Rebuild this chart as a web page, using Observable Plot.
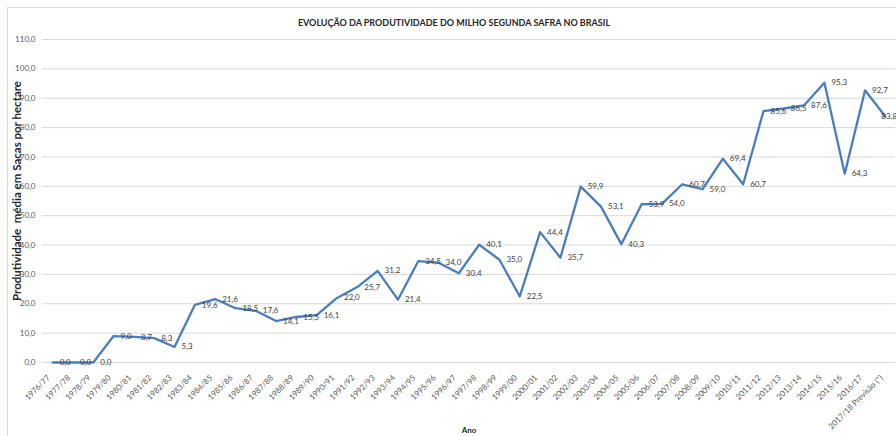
<!DOCTYPE html>
<html><head><meta charset="utf-8">
<script src="https://cdn.jsdelivr.net/npm/d3@7"></script>
<script src="https://cdn.jsdelivr.net/npm/@observablehq/plot@0.6"></script>
<style>body{margin:0;background:#fff;}</style>
</head><body><div id="chart"></div>
<script>
const safras = ["1976/77","1977/78","1978/79","1979/80","1980/81","1981/82","1982/83","1983/84","1984/85","1985/86","1986/87","1987/88","1988/89","1989/90","1990/91","1991/92","1992/93","1993/94","1994/95","1995/96","1996/97","1997/98","1998/99","1999/00","2000/01","2001/02","2002/03","2003/04","2004/05","2005/06","2006/07","2007/08","2008/09","2009/10","2010/11","2011/12","2012/13","2013/14","2014/15","2015/16","2016/17","2017/18 Previsão (*)"];
const produtividade = [0.0,0.0,0.0,9.0,8.7,8.3,5.3,19.6,21.6,18.5,17.6,14.1,15.5,16.1,22.0,25.7,31.2,21.4,34.5,34.0,30.4,40.1,35.0,22.5,44.4,35.7,59.9,53.1,40.3,53.9,54.0,60.7,59.0,69.4,60.7,85.6,86.5,87.6,95.3,64.3,92.7,83.8];
const yTicks = [0,10,20,30,40,50,60,70,80,90,100,110];
const titulo = "EVOLUÇÃO DA PRODUTIVIDADE DO MILHO SEGUNDA SAFRA NO BRASIL";
const tituloY = "Produtividade  média em Sacas por hectare";
const tituloX = "Ano";

const data = safras.map((s, i) => ({safra: s, valor: produtividade[i]}));
const fmt = v => v.toFixed(1).replace(".", ",");
const last = data.length - 1;

const chart = Plot.plot({
  width: 896, height: 436,
  marginLeft: 42, marginRight: 1, marginTop: 39, marginBottom: 74,
  style: {fontFamily: "Lato, 'Open Sans', sans-serif", background: "#fff"},
  x: {type: "point", domain: safras, padding: 0.5, round: false, label: null},
  y: {domain: [0, 110], label: null},
  marks: [
    Plot.frame({stroke: "#d9d9d9", insetLeft: -35, insetTop: -32, insetRight: -20, insetBottom: -90}),
    Plot.gridY(yTicks, {stroke: "#d9d9d9", strokeOpacity: 1}),
    Plot.axisY(yTicks, {tickSize: 0, tickPadding: 7, tickFormat: fmt, fontSize: 8, fill: "#595959", label: null}),
    Plot.axisX({tickRotate: -45, tickSize: 0, tickPadding: 14, dx: -4, fontSize: 8, fill: "#595959", label: null}),
    Plot.line(data, {x: "safra", y: "valor", stroke: "#4A7EBB", strokeWidth: 2.3}),
    Plot.text(data, {filter: (d, i) => i < last, x: "safra", y: "valor", text: d => fmt(d.valor), textAnchor: "start", dx: 7, fontSize: 8, fill: "#404040"}),
    Plot.text(data, {filter: (d, i) => i === last, x: "safra", y: "valor", text: d => fmt(d.valor), textAnchor: "start", dx: -4, fontSize: 8, fill: "#404040"}),
    Plot.text([titulo], {frameAnchor: "top", dy: -20, dx: -15, fontSize: 9, fontWeight: "bold", fill: "#262626"}),
    Plot.text([tituloY], {frameAnchor: "left", textAnchor: "middle", rotate: -90, dx: -25, dy: -10, fontSize: 11.5, fontWeight: "bold", fill: "#262626"}),
    Plot.text([tituloX], {frameAnchor: "bottom", dy: 70, fontSize: 8, fontWeight: "bold", fill: "#262626"})
  ]
});
document.getElementById("chart").appendChild(chart);
</script>
</body></html>
